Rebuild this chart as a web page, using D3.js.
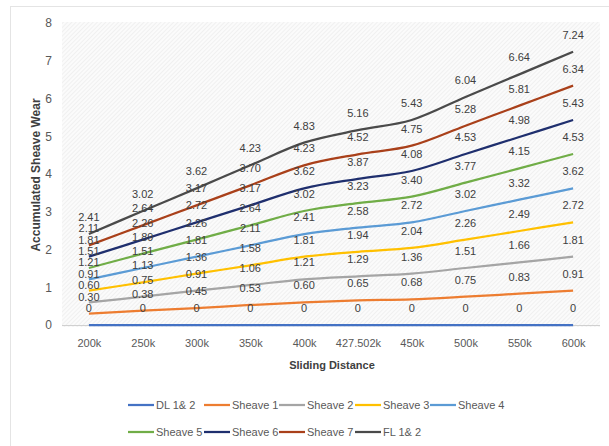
<!DOCTYPE html>
<html>
<head>
<meta charset="utf-8">
<script src="https://cdn.jsdelivr.net/npm/d3@7"></script>
<style>
  body { margin: 0; background: #fff; }
  text { font-family: "Liberation Sans", Arial, sans-serif; }
</style>
</head>
<body>
<div id="chart"></div>
<script>
// categories on the x axis
var distances = ["200k", "250k", "300k", "350k", "400k", "427.502k", "450k", "500k", "550k", "600k"];

// accumulated wear per series
var dl12    = [0, 0, 0, 0, 0, 0, 0, 0, 0, 0];
var sheave1 = [0.30, 0.38, 0.45, 0.53, 0.60, 0.65, 0.68, 0.75, 0.83, 0.91];
var sheave2 = [0.60, 0.75, 0.91, 1.06, 1.21, 1.29, 1.36, 1.51, 1.66, 1.81];
var sheave3 = [0.91, 1.13, 1.36, 1.58, 1.81, 1.94, 2.04, 2.26, 2.49, 2.72];
var sheave4 = [1.21, 1.51, 1.81, 2.11, 2.41, 2.58, 2.72, 3.02, 3.32, 3.62];
var sheave5 = [1.51, 1.89, 2.26, 2.64, 3.02, 3.23, 3.40, 3.77, 4.15, 4.53];
var sheave6 = [1.81, 2.26, 2.72, 3.17, 3.62, 3.87, 4.08, 4.53, 4.98, 5.43];
var sheave7 = [2.11, 2.64, 3.17, 3.70, 4.23, 4.52, 4.75, 5.28, 5.81, 6.34];
var fl12    = [2.41, 3.02, 3.62, 4.23, 4.83, 5.16, 5.43, 6.04, 6.64, 7.24];

var seriesNames = ["DL 1& 2", "Sheave 1", "Sheave 2", "Sheave 3", "Sheave 4",
                   "Sheave 5", "Sheave 6", "Sheave 7", "FL 1& 2"];
var yTicks = [0, 1, 2, 3, 4, 5, 6, 7, 8];

const width = 609;
const height = 446;
const colors = ["#4472C4", "#ED7D31", "#A5A5A5", "#FFC000", "#5B9BD5",
                "#70AD47", "#1F2F6E", "#A9401A", "#4A4A4A"];

const series = [dl12, sheave1, sheave2, sheave3, sheave4, sheave5, sheave6, sheave7, fl12]
    .map((vals, i) => ({ name: seriesNames[i], color: colors[i], values: vals }));

const plot = { left: 62, right: 600, top: 23, bottom: 325 };

const svg = d3.select("#chart")
    .append("svg")
    .attr("width", width)
    .attr("height", height);

// hatched plot background
const defs = svg.append("defs");
const pat = defs.append("pattern")
    .attr("id", "hatch")
    .attr("width", 3)
    .attr("height", 3)
    .attr("patternUnits", "userSpaceOnUse")
    .attr("patternTransform", "rotate(45)");
pat.append("rect").attr("width", 3).attr("height", 3).attr("fill", "#fbfbfb");
pat.append("line").attr("x1", 0).attr("y1", 0).attr("x2", 0).attr("y2", 3)
    .attr("stroke", "#e6e6e6").attr("stroke-width", 1);

// chart border
svg.append("rect")
    .attr("x", 10.5).attr("y", 6.5)
    .attr("width", width - 10).attr("height", height - 6)
    .attr("fill", "#fff")
    .attr("stroke", "#e4e4e4");

var x = d3.scalePoint()
    .domain(distances)
    .range([plot.left, plot.right])
    .padding(0.5);

var y = d3.scaleLinear()
    .domain([0, 8])
    .range([plot.bottom, plot.top]);

svg.append("rect")
    .attr("x", plot.left).attr("y", plot.top - 1)
    .attr("width", plot.right - plot.left).attr("height", plot.bottom - plot.top + 3)
    .attr("fill", "url(#hatch)");

// axes
const xAxis = svg.append("g")
    .attr("transform", "translate(0," + plot.bottom + ")")
    .call(d3.axisBottom(x).tickSize(0).tickPadding(14));
xAxis.select(".domain").attr("stroke", "#d0d0d0").attr("d", "M" + plot.left + ",0.5H" + plot.right);
xAxis.selectAll("text").attr("fill", "#595959").style("font-size", "11px");

const yAxis = svg.append("g")
    .attr("transform", "translate(" + plot.left + ",0)")
    .call(d3.axisLeft(y).tickValues(yTicks).tickSize(0).tickPadding(10));
yAxis.select(".domain").remove();
yAxis.selectAll("text").attr("fill", "#595959").style("font-size", "12px");

svg.append("text")
    .attr("transform", "translate(40," + 175 + ") rotate(-90)")
    .attr("text-anchor", "middle")
    .attr("fill", "#404040")
    .style("font-size", "12px")
    .style("font-weight", "bold")
    .text("Accumulated Sheave Wear");

svg.append("text")
    .attr("x", 332)
    .attr("y", 369)
    .attr("text-anchor", "middle")
    .attr("fill", "#404040")
    .style("font-size", "11px")
    .style("font-weight", "bold")
    .text("Sliding Distance");

// lines
const line = d3.line()
    .x((d, i) => x(distances[i]))
    .y(d => y(d))
    .curve(d3.curveCatmullRom.alpha(0));

svg.selectAll(".series")
    .data(series)
    .enter()
    .append("path")
    .attr("fill", "none")
    .attr("stroke", d => d.color)
    .attr("stroke-width", 2.25)
    .attr("d", d => line(d.values));

// data labels
series.forEach(s => {
    svg.append("g")
        .selectAll("text")
        .data(s.values)
        .enter()
        .append("text")
        .attr("x", (d, i) => x(distances[i]))
        .attr("y", d => y(d) - 13)
        .attr("text-anchor", "middle")
        .attr("fill", "#404040")
        .style("font-size", "11px")
        .text(d => d === 0 ? "0" : d.toFixed(2));
});

// legend
const legendCols = [128, 204, 279, 355, 430];
const legend = svg.append("g")
    .selectAll("g")
    .data(series)
    .enter()
    .append("g")
    .attr("transform", (d, i) => "translate(" + legendCols[i % 5] + "," + (i < 5 ? 405 : 432) + ")");

legend.append("line")
    .attr("x1", 0).attr("x2", 26)
    .attr("stroke", d => d.color)
    .attr("stroke-width", 2.25);

legend.append("text")
    .attr("x", 28)
    .attr("dy", "0.35em")
    .attr("fill", "#595959")
    .style("font-size", "11px")
    .text(d => d.name);
</script>
</body>
</html>
